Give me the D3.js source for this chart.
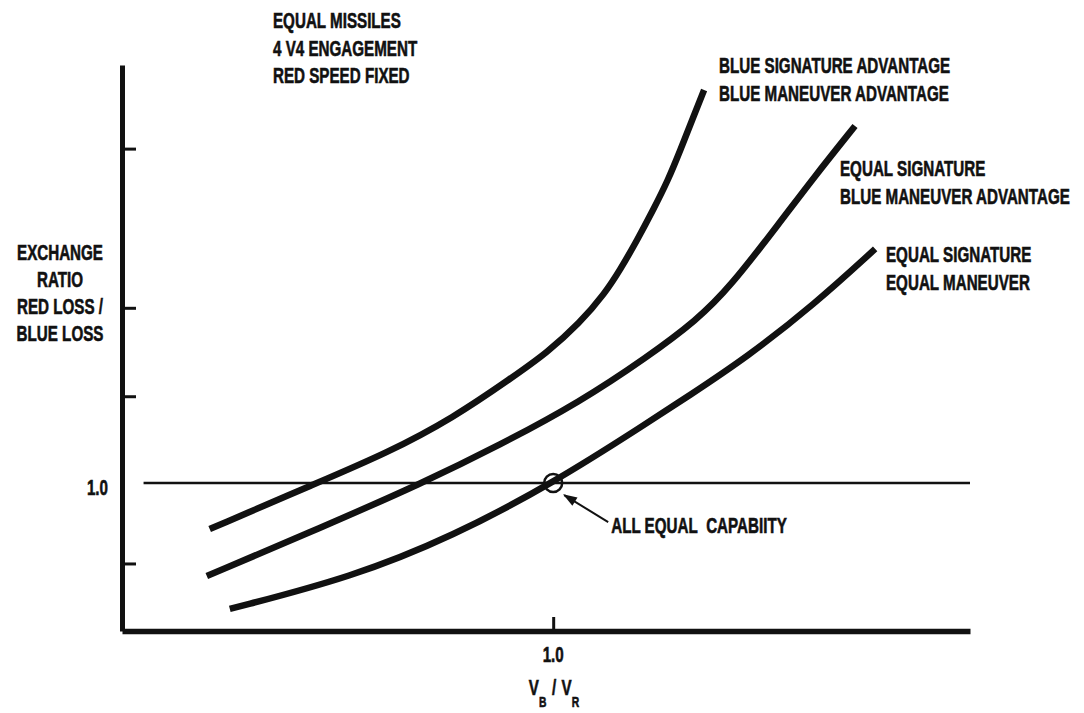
<!DOCTYPE html>
<html>
<head>
<meta charset="utf-8">
<script src="https://cdn.jsdelivr.net/npm/d3@7"></script>
<style>
  html, body { margin: 0; padding: 0; background: #fff; }
  svg { display: block; }
  text { font-family: "Liberation Sans", Arial, sans-serif; font-weight: bold; fill: #111;
         stroke: #111; stroke-width: 0.6; }
</style>
</head>
<body>
<svg id="chart" width="1084" height="713"></svg>
<script>
// exchange ratio vs speed ratio, three capability cases
var curveNames = ['blueSigBlueMan', 'equalSigBlueMan', 'equalSigEqualMan'];
var xBlueSigBlueMan = [0.522, 0.671, 0.769, 0.861, 0.944, 0.991, 1.037, 1.072, 1.093, 1.117, 1.139, 1.160, 1.177, 1.195, 1.210];
var yBlueSigBlueMan = [0.714, 1.000, 1.187, 1.405, 1.660, 1.809, 1.995, 2.180, 2.325, 2.512, 2.698, 2.885, 3.071, 3.277, 3.444];
var xEqualSigBlueMan = [0.518, 0.676, 0.818, 0.926, 1.037, 1.131, 1.200, 1.246, 1.316, 1.362, 1.420];
var yEqualSigBlueMan = [0.422, 0.721, 1.000, 1.237, 1.504, 1.784, 2.014, 2.219, 2.624, 2.897, 3.221];
var xEqualSigEqualMan = [0.550, 0.721, 0.861, 1.000, 1.131, 1.186, 1.270, 1.364, 1.448];
var yEqualSigEqualMan = [0.217, 0.416, 0.671, 1.000, 1.374, 1.535, 1.784, 2.114, 2.456];

var xDomain = [0.4, 1.58];
var yDomain = [0.08, 3.6];
var xTicks = [1.0];
var yTicks = [0.5, 1.54, 2.09, 3.08];
var refLevel = 1.0;
var refFrom = 0.43;

var topNote = ['EQUAL MISSILES', '4 V4 ENGAGEMENT', 'RED SPEED FIXED'];
var yTitle = ['EXCHANGE', 'RATIO', 'RED LOSS /', 'BLUE LOSS'];
var curveLabels = [
  ['BLUE SIGNATURE ADVANTAGE', 'BLUE MANEUVER ADVANTAGE'],
  ['EQUAL SIGNATURE', 'BLUE MANEUVER ADVANTAGE'],
  ['EQUAL SIGNATURE', 'EQUAL MANEUVER']
];
var pointNote = 'ALL EQUAL\u00a0 CAPABIITY';

var svg = d3.select('#chart');
var x = d3.scaleLinear().domain(xDomain).range([122, 970]);
var y = d3.scaleLinear().domain(yDomain).range([631, 65]);
var SX = 0.69; // condensed lettering

function label(g, px, py, str, anchor, size) {
  var t = g.append('g').attr('transform', 'translate(' + px + ',' + py + ') scale(' + SX + ',1)')
    .append('text').attr('text-anchor', anchor || 'start').attr('font-size', size || 22).text(str);
  return t;
}

// axes
var yAx = svg.append('g').attr('transform', 'translate(' + x(xDomain[0]) + ',0)')
  .call(d3.axisRight(y).tickValues(yTicks).tickSize(14).tickSizeOuter(0).tickFormat(''));
yAx.select('.domain').attr('stroke', '#111').attr('stroke-width', 5);
yAx.selectAll('.tick line').attr('stroke', '#111').attr('stroke-width', 3);

var xAx = svg.append('g').attr('transform', 'translate(0,' + y(yDomain[0]) + ')')
  .call(d3.axisTop(x).tickValues(xTicks).tickSize(14).tickSizeOuter(0).tickFormat(''));
xAx.select('.domain').attr('stroke', '#111').attr('stroke-width', 5.5);
xAx.selectAll('.tick line').attr('stroke', '#111').attr('stroke-width', 3);

// reference line at exchange ratio 1.0
svg.append('line')
  .attr('x1', x(refFrom)).attr('x2', x(xDomain[1]))
  .attr('y1', y(refLevel)).attr('y2', y(refLevel))
  .attr('stroke', '#111').attr('stroke-width', 2.5);

// curves
var series = [
  d3.zip(xBlueSigBlueMan, yBlueSigBlueMan),
  d3.zip(xEqualSigBlueMan, yEqualSigBlueMan),
  d3.zip(xEqualSigEqualMan, yEqualSigEqualMan)
];
var line = d3.line().x(function (d) { return x(d[0]); }).y(function (d) { return y(d[1]); })
  .curve(d3.curveBasis);
svg.append('g').selectAll('path').data(series).enter().append('path')
  .attr('class', function (d, i) { return 'curve ' + curveNames[i]; })
  .attr('d', line).attr('fill', 'none').attr('stroke', '#111').attr('stroke-width', 6.5);

// equal-capability point
var cx = x(xTicks[0]), cy = y(refLevel);
svg.append('circle').attr('cx', cx).attr('cy', cy).attr('r', 9)
  .attr('fill', 'none').attr('stroke', '#111').attr('stroke-width', 2.5);
svg.append('defs').append('marker').attr('id', 'ah').attr('viewBox', '0 0 10 10')
  .attr('refX', 9).attr('refY', 5).attr('markerWidth', 9).attr('markerHeight', 7).attr('orient', 'auto')
  .append('path').attr('d', 'M0,1.5 L10,5 L0,8.5 Z').attr('fill', '#111');
svg.append('line').attr('x1', cx + 55).attr('y1', cy + 39).attr('x2', cx + 11).attr('y2', cy + 12)
  .attr('stroke', '#111').attr('stroke-width', 2).attr('marker-end', 'url(#ah)');
label(svg, cx + 58, cy + 50, pointNote, 'start');

// tick labels
label(svg, 108, y(refLevel) + 12, '1.0', 'end');
label(svg, x(xTicks[0]), 662, '1.0', 'middle');

// x title with subscripts
var xt = label(svg, 554, 695, '', 'middle');
xt.append('tspan').text('V');
xt.append('tspan').attr('font-size', 15).attr('dy', 12).text('B');
xt.append('tspan').attr('dy', -12).attr('dx', 8).text('/');
xt.append('tspan').attr('dx', 8).text('V');
xt.append('tspan').attr('font-size', 15).attr('dy', 12).text('R');

// y title
yTitle.forEach(function (s, i) { label(svg, 60, 260 + i * 27, s, 'middle'); });

// top note
topNote.forEach(function (s, i) { label(svg, 273, 28 + i * 27.5, s, 'start'); });

// curve labels
var labelPos = [[719, 73], [840, 176], [886, 262]];
curveLabels.forEach(function (ls, k) {
  ls.forEach(function (s, i) { label(svg, labelPos[k][0], labelPos[k][1] + i * 28, s, 'start'); });
});
</script>
</body>
</html>
